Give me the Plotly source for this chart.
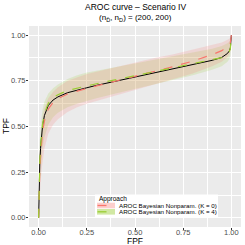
import plotly.graph_objects as go

fpf = [0, 0.001, 0.003, 0.006, 0.01, 0.015, 0.02, 0.03, 0.05, 0.075, 0.1, 0.15, 0.2, 0.25,
       0.3, 0.4, 0.5, 0.6, 0.7, 0.8, 0.9, 0.95, 0.98, 0.99, 0.995, 1.0]

true_roc = [0, 0.12, 0.22, 0.30, 0.38, 0.45, 0.50, 0.56, 0.615, 0.645, 0.662, 0.685, 0.700, 0.712,
            0.725, 0.748, 0.772, 0.795, 0.818, 0.840, 0.862, 0.878, 0.90, 0.915, 0.93, 1.0]

k0_est = [0, 0.09, 0.18, 0.26, 0.33, 0.41, 0.47, 0.53, 0.595, 0.632, 0.652, 0.678, 0.695, 0.709,
          0.722, 0.748, 0.775, 0.802, 0.828, 0.858, 0.893, 0.915, 0.935, 0.948, 0.96, 1.0]
k0_low = [0, 0.03, 0.08, 0.13, 0.19, 0.26, 0.31, 0.38, 0.46, 0.51, 0.54, 0.58, 0.605, 0.625,
          0.64, 0.67, 0.70, 0.73, 0.76, 0.79, 0.83, 0.855, 0.88, 0.895, 0.91, 1.0]
k0_up = [0, 0.18, 0.28, 0.36, 0.43, 0.50, 0.54, 0.60, 0.655, 0.69, 0.715, 0.75, 0.77, 0.787,
         0.80, 0.825, 0.85, 0.875, 0.895, 0.92, 0.945, 0.96, 0.975, 0.98, 0.985, 1.0]

k4_est = [0, 0.13, 0.23, 0.31, 0.39, 0.46, 0.51, 0.57, 0.627, 0.657, 0.674, 0.697, 0.711, 0.722,
          0.734, 0.756, 0.778, 0.799, 0.82, 0.841, 0.862, 0.877, 0.898, 0.912, 0.928, 1.0]
k4_low = [0, 0.05, 0.12, 0.18, 0.26, 0.33, 0.38, 0.44, 0.51, 0.55, 0.575, 0.605, 0.625, 0.64,
          0.655, 0.68, 0.705, 0.73, 0.755, 0.78, 0.81, 0.83, 0.855, 0.87, 0.89, 1.0]
k4_up = [0, 0.22, 0.33, 0.42, 0.49, 0.55, 0.59, 0.635, 0.68, 0.71, 0.73, 0.76, 0.78, 0.795,
         0.805, 0.825, 0.845, 0.865, 0.885, 0.905, 0.925, 0.94, 0.955, 0.965, 0.975, 1.0]

names = ["AROC Bayesian Nonparam. (K = 0)", "AROC Bayesian Nonparam. (K = 4)"]
line_colors = ["#F8766D", "#9ACD32"]
fill_colors = ["rgba(248,118,109,0.18)", "rgba(154,205,50,0.18)"]
key_fills = ["rgba(248,118,109,0.35)", "rgba(154,205,50,0.45)"]

FONT = "Liberation Sans"

fig = go.Figure()
for low, up, fc in [(k4_low, k4_up, fill_colors[1]), (k0_low, k0_up, fill_colors[0])]:
    fig.add_trace(go.Scatter(x=fpf, y=low, mode="lines", line=dict(width=0),
                             showlegend=False, hoverinfo="skip"))
    fig.add_trace(go.Scatter(x=fpf, y=up, mode="lines", line=dict(width=0), fill="tonexty",
                             fillcolor=fc, showlegend=False, hoverinfo="skip"))

fig.add_trace(go.Scatter(x=fpf, y=true_roc, mode="lines", line=dict(color="black", width=1),
                         showlegend=False))
for est, nm, lc in [(k0_est, names[0], line_colors[0]), (k4_est, names[1], line_colors[1])]:
    fig.add_trace(go.Scatter(x=fpf, y=est, mode="lines", name=nm, showlegend=False,
                             line=dict(color=lc, width=1.2, dash="dash")))

axis_common = dict(range=[-0.05, 1.05], tickmode="array", tickvals=[0, 0.25, 0.5, 0.75, 1.0],
                   ticktext=["0.00", "0.25", "0.50", "0.75", "1.00"],
                   showgrid=True, gridcolor="white", gridwidth=1,
                   minor=dict(tickmode="array", tickvals=[0.125, 0.375, 0.625, 0.875],
                              showgrid=True, gridcolor="white", gridwidth=0.5),
                   zeroline=False, ticks="outside", ticklen=2, tickcolor="#333333",
                   tickfont=dict(size=7.5, color="#4D4D4D", family=FONT),
                   showline=False, automargin=False, fixedrange=True)

# plot area in pixels: x 29..241, y 26..227
L, R, T, B = 29, 4, 26, 18
W, H = 245, 245
pw, ph = W - L - R, H - T - B

def px(xp):
    return (xp - L) / pw

def py(yp):
    return (H - B - yp) / ph

shapes = []
annotations = []
annotations.append(dict(text="AROC curve \u2013 Scenario IV", x=px(135), y=py(7), xref="paper", yref="paper",
                        showarrow=False, xanchor="center", yanchor="middle",
                        font=dict(size=8.5, color="black", family=FONT)))
annotations.append(dict(text="(n<sub>D\u0304</sub>, n<sub>D</sub>) = (200, 200)", x=px(135), y=py(18),
                        xref="paper", yref="paper", showarrow=False, xanchor="center", yanchor="middle",
                        font=dict(size=8, color="black", family=FONT)))
annotations.append(dict(text="FPF", x=px(135), y=py(240.5), xref="paper", yref="paper", showarrow=False,
                        xanchor="center", yanchor="middle", font=dict(size=8.5, color="black", family=FONT)))
annotations.append(dict(text="TPF", x=px(6), y=py(126), xref="paper", yref="paper", showarrow=False,
                        textangle=-90, xanchor="center", yanchor="middle",
                        font=dict(size=8.5, color="black", family=FONT)))

# legend box
lx0, lx1, ly0, ly1 = 95, 218, 194.5, 217
shapes.append(dict(type="rect", xref="paper", yref="paper", x0=px(lx0), x1=px(lx1), y0=py(ly1), y1=py(ly0),
                   fillcolor="white", line=dict(width=0), layer="above"))
annotations.append(dict(text="Approach", x=px(97), y=py(199), xref="paper", yref="paper", showarrow=False,
                        xanchor="left", yanchor="middle", font=dict(size=6.5, color="black", family=FONT)))
for i, nm in enumerate(names):
    yc = 205.5 + i * 6.3
    shapes.append(dict(type="rect", xref="paper", yref="paper", x0=px(97), x1=px(115),
                       y0=py(yc + 2.8), y1=py(yc - 2.8), fillcolor=key_fills[i], line=dict(width=0),
                       layer="above"))
    shapes.append(dict(type="line", xref="paper", yref="paper", x0=px(97.5), x1=px(114.5),
                       y0=py(yc), y1=py(yc), line=dict(color=line_colors[i], width=1.3, dash="dash"),
                       layer="above"))
    annotations.append(dict(text=nm, x=px(116.5), y=py(yc), xref="paper", yref="paper", showarrow=False,
                            xanchor="left", yanchor="middle",
                            font=dict(size=6.2, color="black", family=FONT)))

fig.update_layout(
    width=W, height=H,
    margin=dict(l=L, r=R, t=T, b=B, pad=0),
    plot_bgcolor="#EBEBEB", paper_bgcolor="white",
    xaxis=dict(axis_common, ticklabelstandoff=-4),
    yaxis=dict(axis_common, ticklabelstandoff=-1),
    showlegend=False,
    shapes=shapes, annotations=annotations,
)

fig.write_html("out.html", config={"displayModeBar": False},
               post_script="document.body.style.margin='0';document.body.style.overflow='hidden';")
